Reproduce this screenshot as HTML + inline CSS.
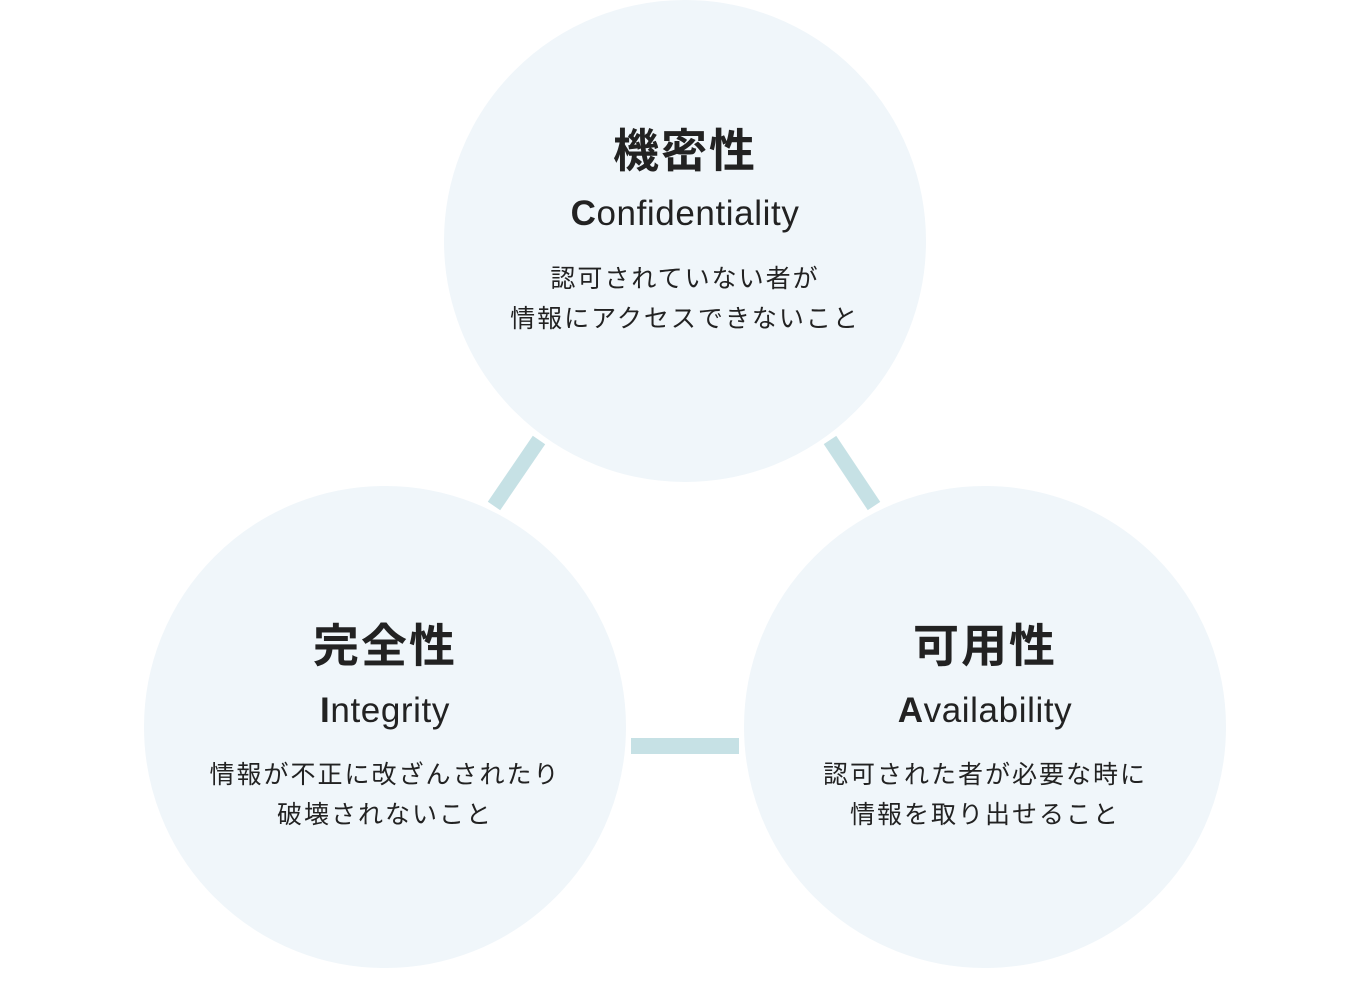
<!DOCTYPE html>
<html><head><meta charset="utf-8"><style>
body{margin:0;width:1368px;height:998px;background:#fff;position:relative;overflow:hidden;font-family:"Liberation Sans","Noto Sans CJK JP",sans-serif;color:#222}
svg{position:absolute;left:0;top:0}
.t{position:absolute;width:480px;text-align:center;white-space:nowrap;line-height:1}
.h{font-size:46px;font-weight:bold;letter-spacing:2px}
.e{font-size:35px;letter-spacing:0.6px}
.e b{font-weight:bold}
.d{font-size:25px;letter-spacing:2px;line-height:40px}
</style></head><body>
<svg width="1368" height="998">
<line x1="539" y1="440" x2="494" y2="506" stroke="#c6e1e5" stroke-width="15"/>
<line x1="830" y1="440" x2="874" y2="506" stroke="#c6e1e5" stroke-width="15"/>
<rect x="631" y="738" width="108" height="16" fill="#c6e1e5"/>
<circle cx="685" cy="241" r="242" fill="#f0f6fa" stroke="#fff" stroke-width="2"/>
<circle cx="385" cy="727" r="242" fill="#f0f6fa" stroke="#fff" stroke-width="2"/>
<circle cx="985" cy="727" r="242" fill="#f0f6fa" stroke="#fff" stroke-width="2"/>
</svg>
<div class="t h" style="left:445px;top:128px">機密性</div>
<div class="t e" style="left:445px;top:196px"><b>C</b>onfidentiality</div>
<div class="t d" style="left:445px;top:259px">認可されていない者が<br>情報にアクセスできないこと</div>

<div class="t h" style="left:145px;top:623px">完全性</div>
<div class="t e" style="left:145px;top:693px"><b>I</b>ntegrity</div>
<div class="t d" style="left:145px;top:755px">情報が不正に改ざんされたり<br>破壊されないこと</div>

<div class="t h" style="left:745px;top:623px">可用性</div>
<div class="t e" style="left:745px;top:693px"><b>A</b>vailability</div>
<div class="t d" style="left:745px;top:755px">認可された者が必要な時に<br>情報を取り出せること</div>
</body></html>
